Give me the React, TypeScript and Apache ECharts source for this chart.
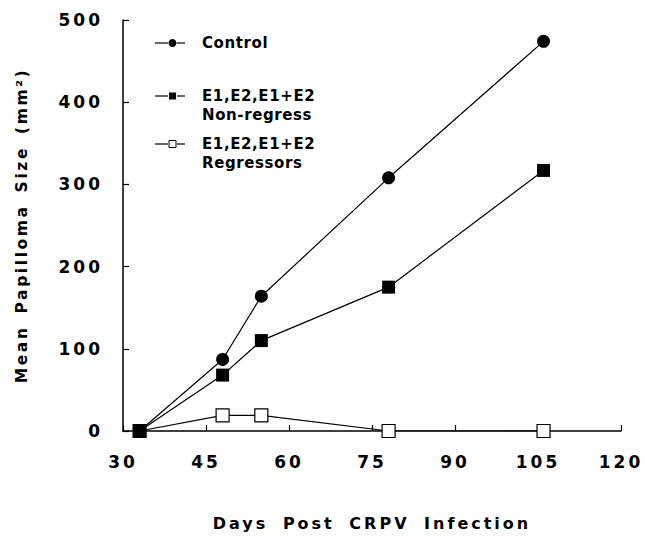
import React, { useEffect, useRef } from "react";
import * as echarts from "echarts";

const days = [33, 48, 55, 78, 106];
const control = [0, 87, 164, 308, 474];
const nonRegress = [0, 68, 110, 175, 317];
const regressors = [0, 19, 19, 0, 0];

const seriesNames = ["Control", "E1,E2,E1+E2\nNon-regress", "E1,E2,E1+E2\nRegressors"];
const xTicks = [30, 45, 60, 75, 90, 105, 120];
const yTicks = [0, 100, 200, 300, 400, 500];

const FONT = "DejaVu Sans";

const css = `
svg text[style*="17px"] { letter-spacing: 3px; }
svg text[style*="16px"] { letter-spacing: 3px; word-spacing: 6px; }
svg text[style*="15.5px"] { letter-spacing: 2.6px; word-spacing: 4px; }
svg text[style*="15px"] { letter-spacing: 0.6px; }
`;

export default function App() {
  const ref = useRef<HTMLDivElement>(null);
  useEffect(() => {
    if (!ref.current) return;
    const chart = echarts.init(ref.current, null, { renderer: "svg" });
    const pairs = (vals: number[]) => days.map((d, i) => [d, vals[i]]);
    const legendY = [43, 96, 144];
    const legendGraphics: any[] = [];
    legendY.forEach((y, i) => {
      legendGraphics.push({
        type: "line",
        shape: { x1: 155, y1: y, x2: 168, y2: y },
        style: { stroke: "#000", lineWidth: 1.2 },
      });
      legendGraphics.push({
        type: "line",
        shape: { x1: 177, y1: y, x2: 185, y2: y },
        style: { stroke: "#000", lineWidth: 1.2 },
      });
      if (i === 0) {
        legendGraphics.push({
          type: "circle",
          shape: { cx: 172.5, cy: y, r: 4 },
          style: { fill: "#000" },
        });
      } else {
        legendGraphics.push({
          type: "rect",
          shape: { x: 169, y: y - 3.5, width: 7, height: 7 },
          style: i === 1 ? { fill: "#000" } : { fill: "#fff", stroke: "#000", lineWidth: 1 },
        });
      }
      legendGraphics.push({
        type: "text",
        x: 202,
        y: y - 9.5,
        style: {
          text: seriesNames[i],
          fill: "#000",
          fontFamily: FONT,
          fontWeight: "bold",
          fontSize: 15,
          lineHeight: 19,
          verticalAlign: "top",
        },
      });
    });

    chart.setOption({
      animation: false,
      backgroundColor: "#fff",
      grid: { left: 123, right: 24, top: 20, bottom: 97, containLabel: false },
      xAxis: {
        type: "value",
        min: xTicks[0],
        max: xTicks[xTicks.length - 1],
        interval: 15,
        name: "Days Post CRPV Infection",
        nameLocation: "middle",
        nameGap: 84,
        nameTextStyle: { fontFamily: FONT, fontWeight: "bold", fontSize: 16, color: "#000" },
        axisLine: { lineStyle: { color: "#000", width: 1.5 } },
        axisTick: { inside: true, length: 6, lineStyle: { color: "#000", width: 1.2 } },
        axisLabel: { fontFamily: FONT, fontWeight: "bold", fontSize: 17, color: "#000", margin: 22 },
        splitLine: { show: false },
      },
      yAxis: {
        type: "value",
        min: yTicks[0],
        max: yTicks[yTicks.length - 1],
        interval: 100,
        name: "Mean Papilloma Size (mm²)",
        nameLocation: "middle",
        nameGap: 93,
        nameTextStyle: { fontFamily: FONT, fontWeight: "bold", fontSize: 15.5, color: "#000" },
        axisLine: { show: true, lineStyle: { color: "#000", width: 1.5 } },
        axisTick: { show: true, inside: true, length: 6, lineStyle: { color: "#000", width: 1.2 } },
        axisLabel: { fontFamily: FONT, fontWeight: "bold", fontSize: 17, color: "#000", margin: 20 },
        splitLine: { show: false },
      },
      graphic: legendGraphics,
      series: [
        {
          name: seriesNames[2],
          type: "line",
          data: pairs(regressors),
          symbol: "rect",
          symbolSize: 13,
          z: 2,
          lineStyle: { color: "#000", width: 1.2 },
          itemStyle: { color: "#fff", borderColor: "#000", borderWidth: 1.2 },
        },
        {
          name: seriesNames[0],
          type: "line",
          data: pairs(control),
          symbol: "circle",
          symbolSize: 13,
          z: 3,
          lineStyle: { color: "#000", width: 1.2 },
          itemStyle: { color: "#000", borderColor: "#000", borderWidth: 0 },
        },
        {
          name: seriesNames[1],
          type: "line",
          data: pairs(nonRegress),
          symbol: "rect",
          symbolSize: 13,
          z: 4,
          lineStyle: { color: "#000", width: 1.2 },
          itemStyle: { color: "#000", borderColor: "#000", borderWidth: 0 },
        },
      ],
    });
    return () => chart.dispose();
  }, []);
  return (
    <>
      <style>{css}</style>
      <div
        ref={ref}
        style={{ position: "fixed", left: 0, top: 0, width: 645, height: 536, background: "#fff" }}
      />
    </>
  );
}
